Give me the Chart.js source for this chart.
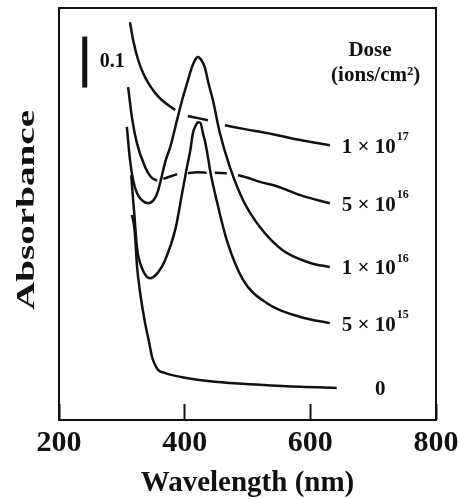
<!DOCTYPE html>
<html lang="en">
<head>
<meta charset="UTF-8">
<title>Absorbance vs wavelength</title>
<script src="https://cdn.jsdelivr.net/npm/chart.js"></script>
<style>
  body { margin: 0; background: #ffffff; }
  .wrap { width: 459px; height: 499px; }
</style>
</head>
<body>
<div class="wrap"><canvas id="spectra"></canvas></div>
<script>
// spectra (wavelength nm, absorbance), null = break in the drawn line
const wl17 = [313, 318, 326, 334, 342, 352, 364, 385, 395, 405, 421, 437, 450, 464, 498, 531, 584, 631];
const abs17 = [0.780, 0.745, 0.706, 0.680, 0.661, 0.643, 0.627, 0.608, null, 0.596, 0.592, 0.588, null, 0.578, 0.570, 0.563, 0.549, 0.539];

const wl5e16 = [310, 316, 324, 337, 346, 356, 360, 366, 378, 388, 396, 405, 420, 435, 441, 448, 467, 476, 485, 500, 520, 550, 584, 631];
const abs5e16 = [0.653, 0.594, 0.543, 0.496, 0.477, 0.469, null, 0.473, 0.478, 0.482, null, 0.484, 0.486, 0.485, null, 0.485, 0.484, null, 0.480, 0.475, 0.467, 0.457, 0.441, 0.425];

const wl1e16 = [308, 313, 318, 324, 331, 342, 351, 357, 363, 370, 377, 389, 397, 404, 411, 416, 421, 427, 432, 438, 445, 456, 472, 493, 520, 556, 600, 631];
const abs1e16 = [0.575, 0.510, 0.470, 0.445, 0.432, 0.425, 0.432, 0.447, 0.475, 0.510, 0.535, 0.594, 0.632, 0.661, 0.690, 0.705, 0.712, 0.705, 0.692, 0.660, 0.627, 0.563, 0.496, 0.431, 0.378, 0.333, 0.308, 0.300];

const wl5e15 = [315, 318, 320, 324, 332, 345, 358, 369, 385, 396, 403, 409, 413, 417, 421, 425, 429, 433, 437, 441, 452, 467, 493, 531, 584, 631];
const abs5e15 = [0.480, 0.431, 0.402, 0.339, 0.298, 0.278, 0.290, 0.314, 0.373, 0.445, 0.492, 0.529, 0.562, 0.576, 0.584, 0.583, 0.563, 0.543, 0.516, 0.486, 0.425, 0.353, 0.275, 0.229, 0.202, 0.190];

const wl0 = [316, 319, 321, 324, 329, 337, 343, 348, 353, 358, 369, 396, 448, 520, 584, 642];
const abs0 = [0.402, 0.385, 0.363, 0.304, 0.251, 0.190, 0.155, 0.124, 0.108, 0.098, 0.092, 0.084, 0.075, 0.069, 0.065, 0.063];

const doseText = ['1 × 10', '5 × 10', '1 × 10', '5 × 10', '0'];
const dosePow = ['17', '16', '16', '15', ''];
const labelStartNm = [650, 650, 650, 650, 703];

const xTicks = [200, 400, 600, 800];
const scaleBarNm = 241;
const scaleBarAbs = [0.652, 0.752];

const serif = '"Liberation Serif", "Times New Roman", serif';

function toPoints(xs, ys) {
    return xs.map((x, i) => ({ x: x, y: ys[i] }));
}

const curves = [
    toPoints(wl17, abs17),
    toPoints(wl5e16, abs5e16),
    toPoints(wl1e16, abs1e16),
    toPoints(wl5e15, abs5e15),
    toPoints(wl0, abs0)
];

const datasets = curves.map((pts, i) => ({
    label: doseText[i] + (dosePow[i] ? '^' + dosePow[i] : ''),
    data: pts,
    borderColor: '#111',
    borderWidth: 2.5,
    pointRadius: 0,
    fill: false,
    spanGaps: false,
    cubicInterpolationMode: 'monotone'
}));

// 0.1 absorbance scale bar
datasets.push({
    label: 'scale',
    data: scaleBarAbs.map(a => ({ x: scaleBarNm, y: a })),
    borderColor: '#111',
    borderWidth: 5,
    pointRadius: 0,
    borderCapStyle: 'butt'
});

// box around the plot
const frame = {
    id: 'frame',
    afterDraw(chart) {
        const a = chart.chartArea;
        const ctx = chart.ctx;
        ctx.save();
        ctx.strokeStyle = '#111';
        ctx.lineWidth = 2;
        ctx.strokeRect(a.left, a.top, a.right - a.left, a.bottom - a.top);
        ctx.restore();
    }
};

// dose labels, header, scale bar text, rotated y title
const annotations = {
    id: 'annotations',
    afterDraw(chart) {
        const ctx = chart.ctx;
        const xs = chart.scales.x;
        const ys = chart.scales.y;
        ctx.save();
        ctx.fillStyle = '#111';
        ctx.textBaseline = 'middle';

        curves.forEach((pts, i) => {
            const last = pts[pts.length - 1];
            const px = xs.getPixelForValue(labelStartNm[i]);
            const py = ys.getPixelForValue(last.y) + 2;
            ctx.font = 'bold 21px ' + serif;
            ctx.textAlign = 'left';
            ctx.fillText(doseText[i], px, py);
            if (dosePow[i]) {
                const w = ctx.measureText(doseText[i]).width;
                ctx.font = 'bold 12px ' + serif;
                ctx.fillText(dosePow[i], px + w + 1, py - 10);
            }
        });

        ctx.textAlign = 'center';
        ctx.font = 'bold 21px ' + serif;
        ctx.fillText('Dose', xs.getPixelForValue(695), ys.getPixelForValue(0.725));
        ctx.fillText('(ions/cm²)', xs.getPixelForValue(704), ys.getPixelForValue(0.676));

        ctx.textAlign = 'left';
        ctx.font = 'bold 20px ' + serif;
        ctx.fillText('0.1', xs.getPixelForValue(scaleBarNm) + 15,
            ys.getPixelForValue((scaleBarAbs[0] + scaleBarAbs[1]) / 2));

        // y title, stretched like the original lettering
        const a = chart.chartArea;
        ctx.font = 'bold 26px ' + serif;
        const w = ctx.measureText('Absorbance').width;
        ctx.translate(27, (a.top + a.bottom) / 2 - 4);
        ctx.rotate(-Math.PI / 2);
        ctx.scale(200 / w, 1);
        ctx.textAlign = 'center';
        ctx.fillText('Absorbance', 0, 0);
        ctx.restore();
    }
};

new Chart(document.getElementById('spectra'), {
    type: 'line',
    data: { datasets: datasets },
    options: {
        responsive: true,
        maintainAspectRatio: false,
        animation: false,
        layout: { padding: { left: 59, right: 23, top: 8, bottom: 0 } },
        plugins: {
            legend: { display: false },
            tooltip: { enabled: false }
        },
        scales: {
            x: {
                type: 'linear',
                min: 200,
                max: 800,
                afterBuildTicks: s => { s.ticks = xTicks.map(v => ({ value: v })); },
                afterFit: s => {
                    s.height = 79;
                    // the label overhang fits inside the layout padding
                    s.paddingLeft = 22;
                    s.paddingRight = 22;
                },
                ticks: {
                    color: '#111',
                    padding: 21,
                    maxRotation: 0,
                    font: { family: serif, size: 30, weight: 'bold' }
                },
                grid: { drawOnChartArea: false, tickLength: -16, tickWidth: 2, color: '#111' },
                border: { display: false },
                title: {
                    display: true,
                    text: 'Wavelength (nm)',
                    color: '#111',
                    padding: { top: 0, bottom: -2 },
                    font: { family: serif, size: 29, weight: 'bold' }
                }
            },
            y: {
                display: false,
                min: 0,
                max: 0.808
            }
        }
    },
    plugins: [frame, annotations]
});
</script>
</body>
</html>
